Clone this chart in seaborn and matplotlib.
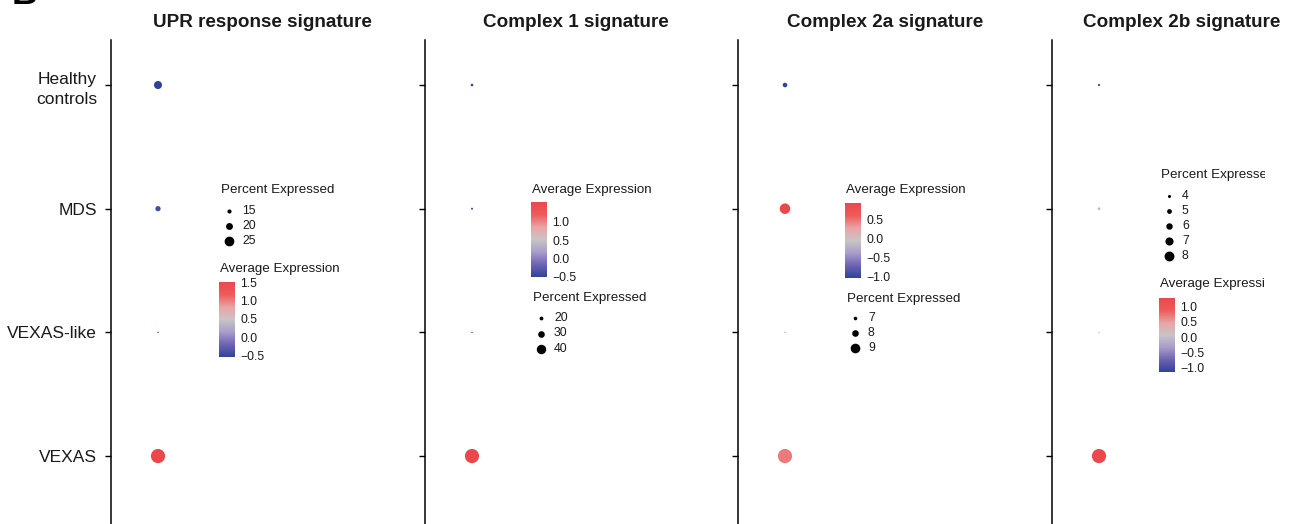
import numpy as np
import pandas as pd
import matplotlib
matplotlib.use("Agg")
import matplotlib.pyplot as plt
from matplotlib.colors import LinearSegmentedColormap, Normalize
from matplotlib.cm import ScalarMappable
from matplotlib.transforms import Bbox, TransformedBbox
import seaborn as sns

sns.set_theme(style="white")
plt.rcParams['font.family'] = ['Liberation Sans', 'DejaVu Sans']

# ---- data ----
groups = ["Healthy\ncontrols", "MDS", "VEXAS-like", "VEXAS"]
titles = ["UPR response signature", "Complex 1 signature",
          "Complex 2a signature", "Complex 2b signature"]

upr_avg = [-0.55, -0.45, -0.52, 1.52]
upr_pct = [19.8, 16.5, 12.0, 27.0]
c1_avg = [-0.52, -0.48, -0.50, 1.55]
c1_pct = [17.8, 16.4, 15.0, 45.0]
c2a_avg = [-1.03, 0.92, -0.34, 0.45]
c2a_pct = [7.3, 8.6, 6.6, 9.4]
c2b_avg = [-1.13, -0.10, -0.03, 1.26]
c2b_pct = [3.9, 4.1, 3.6, 8.6]

avg_list = [upr_avg, c1_avg, c2a_avg, c2b_avg]
pct_list = [upr_pct, c1_pct, c2a_pct, c2b_pct]

# legend breaks
pct_breaks = [[15, 20, 25], [20, 30, 40], [7, 8, 9], [4, 5, 6, 7, 8]]
avg_breaks = [[-0.5, 0.0, 0.5, 1.0, 1.5], [-0.5, 0.0, 0.5, 1.0],
              [-1.0, -0.5, 0.0, 0.5], [-1.0, -0.5, 0.0, 0.5, 1.0]]

cmap = LinearSegmentedColormap.from_list(
    "bgr", ["#2E4399", "#6E63B2", "#A89DCB", "#C9C4C6", "#E9A3A3", "#EE5A5A", "#EC484C"])

W, H = 1293, 524
DPI = 100
fig = plt.figure(figsize=(W / DPI, H / DPI), dpi=DPI)


def px_axes(x0, y0, w, h):
    # pixel box (top-left origin) -> figure axes
    return fig.add_axes([x0 / W, 1 - (y0 + h) / H, w / W, h / H])


RMAX = 6.4  # px radius span of the dots


def radius(p, pmin, pmax):
    return 0.7 + RMAX * (p - pmin) / (pmax - pmin)


def area(r_px):
    return (2 * r_px * 72 / DPI) ** 2


axis_x = [111, 425, 738, 1052]
title_off = [151, 151, 147, 130]
panel_w = 300

# overlay for legends
lax = fig.add_axes([0, 0, 1, 1])
lax.set_xlim(0, W)
lax.set_ylim(H, 0)
lax.axis("off")
lax.set_zorder(5)
lax.patch.set_alpha(0)
# the last panel's legend is cut at its right edge in the original
clip_box = TransformedBbox(Bbox([[0, 0], [1265, H]]), lax.transData)

leg_x = [221, 533, 847, 1161]
layouts = [
    dict(pct=(190, 211, 15), avg=(269, 282, 357)),
    dict(pct=(298, 318, 15.5), avg=(190, 202, 277)),
    dict(pct=(299, 318, 15), avg=(190, 203, 278)),
    dict(pct=(175, 196, 15), avg=(284, 298, 372)),
]

for i in range(4):
    avg = avg_list[i]
    pct = pct_list[i]
    pmin, pmax = min(pct), max(pct)
    vmin, vmax = min(avg), max(avg)
    df = pd.DataFrame({"group": groups, "avg": avg, "pct": pct, "x": 0.0})
    sizes = [area(radius(p, pmin, pmax)) for p in pct]

    ax = px_axes(axis_x[i], 40, panel_w, 490)
    sns.scatterplot(data=df, x="x", y="group", hue="avg", palette=cmap,
                    hue_norm=(vmin, vmax), s=sizes, linewidth=0,
                    legend=False, ax=ax)
    ax.set_xlim(-47, panel_w - 47)
    ax.set_ylim(3.598, -0.364)
    for sp in ["top", "right", "bottom"]:
        ax.spines[sp].set_visible(False)
    ax.spines["left"].set_color("black")
    ax.spines["left"].set_linewidth(1.1)
    ax.set_xticks([])
    ax.set_xlabel("")
    ax.set_ylabel("")
    ax.tick_params(axis="y", left=True, length=4, width=1, color="black",
                   pad=6, labelsize=12.5, labelcolor="#1a1a1a")
    if i > 0:
        ax.tick_params(axis="y", labelleft=False)
    else:
        for lab in ax.get_yticklabels():
            lab.set_linespacing(1.45)

    fig.text((axis_x[i] + title_off[i]) / W, 1 - 27 / H, titles[i],
             fontsize=13.6, fontweight="bold", ha="center", va="baseline",
             color="#1a1a1a")

    # --- legends ---
    lx = leg_x[i]
    lay = layouts[i]
    pt_title, pt_first, pt_step = lay["pct"]
    t1 = lax.text(lx, pt_title, "Percent Expressed", fontsize=9.6, va="center",
                  ha="left", color="#1a1a1a")
    for k, b in enumerate(pct_breaks[i]):
        yk = pt_first + k * pt_step
        rl = 1.2 + 0.66 * RMAX * (b - pmin) / (pmax - pmin)
        lax.scatter([lx + 8], [yk], s=area(rl), color="black", linewidth=0)
        lax.text(lx + 21, yk, str(b), fontsize=8.8, va="center", ha="left",
                 color="#1a1a1a")

    at_title, cb_top, cb_bot = lay["avg"]
    t2 = lax.text(lx - 1, at_title, "Average Expression", fontsize=9.6,
                  va="center", ha="left", color="#1a1a1a")
    if i == 3:
        for t in (t1, t2):
            t.set_clip_on(True)
            t.set_clip_box(clip_box)
    cax = px_axes(lx - 2, cb_top, 16, cb_bot - cb_top)
    sm = ScalarMappable(norm=Normalize(vmin, vmax), cmap=cmap)
    cb = fig.colorbar(sm, cax=cax, ticks=avg_breaks[i])
    cb.outline.set_visible(False)
    cb.ax.set_yticklabels([f"{t:.1f}".replace("-", "\u2212") for t in avg_breaks[i]])
    cb.ax.tick_params(direction="in", color="white", length=3, width=0.8,
                      left=True, right=True, labelleft=False, labelright=True,
                      labelsize=8.8, pad=4, labelcolor="#1a1a1a")

# clipped panel letter at top-left
fig.text(12 / W, 1 - 4 / H, "B", fontsize=26, fontweight="bold", va="baseline",
         ha="left", color="black")

fig.savefig("out.png", dpi=DPI)
